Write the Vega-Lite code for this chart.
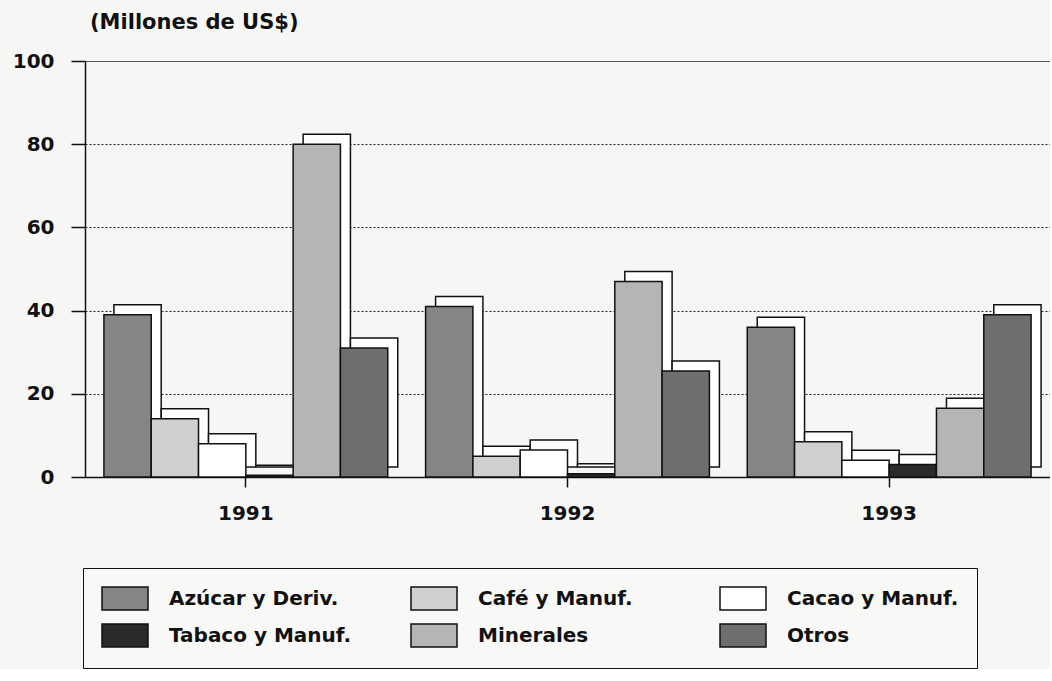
{
  "$schema": "https://vega.github.io/schema/vega-lite/v6.json",
  "width": 965,
  "height": 416,
  "padding": {"left": 12, "top": 12, "right": 0, "bottom": 0},
  "background": "#f6f6f4",
  "config": {"view": {"stroke": null}, "font": "DejaVu Sans"},
  "title": {"text": "(Millones de US$)", "anchor": "start", "frame": "group", "font": "DejaVu Sans", "fontSize": 21, "fontWeight": "bold", "color": "#111", "offset": 18, "dx": 5},
  "data": {"values": [
    {"year": "1991", "cat": "Azúcar y Deriv.", "value": 39},
    {"year": "1991", "cat": "Café y Manuf.", "value": 14},
    {"year": "1991", "cat": "Cacao y Manuf.", "value": 8},
    {"year": "1991", "cat": "Tabaco y Manuf.", "value": 0.4},
    {"year": "1991", "cat": "Minerales", "value": 80},
    {"year": "1991", "cat": "Otros", "value": 31},
    {"year": "1992", "cat": "Azúcar y Deriv.", "value": 41},
    {"year": "1992", "cat": "Café y Manuf.", "value": 5},
    {"year": "1992", "cat": "Cacao y Manuf.", "value": 6.5},
    {"year": "1992", "cat": "Tabaco y Manuf.", "value": 0.8},
    {"year": "1992", "cat": "Minerales", "value": 47},
    {"year": "1992", "cat": "Otros", "value": 25.5},
    {"year": "1993", "cat": "Azúcar y Deriv.", "value": 36},
    {"year": "1993", "cat": "Café y Manuf.", "value": 8.5},
    {"year": "1993", "cat": "Cacao y Manuf.", "value": 4},
    {"year": "1993", "cat": "Tabaco y Manuf.", "value": 3},
    {"year": "1993", "cat": "Minerales", "value": 16.5},
    {"year": "1993", "cat": "Otros", "value": 39}
  ]},
  "encoding": {
    "x": {"field": "year", "type": "nominal", "title": null,
      "scale": {"paddingInner": 0, "paddingOuter": 0},
      "axis": {"labelAngle": 0, "labelFont": "DejaVu Sans", "labelFontSize": 20, "labelFontWeight": "bold", "labelColor": "#111", "labelPadding": 16, "tickSize": 10, "tickColor": "#111", "tickWidth": 1.5, "domainColor": "#111", "domainWidth": 1.5}},
    "y": {"field": "value", "type": "quantitative", "title": null,
      "scale": {"domain": [0, 100], "nice": false},
      "axis": {"values": [0, 20, 40, 60, 80, 100], "labelFont": "DejaVu Sans", "labelFontSize": 20, "labelFontWeight": "bold", "labelColor": "#111", "labelPadding": 17, "tickSize": 14, "tickColor": "#111", "tickWidth": 1.5, "domainColor": "#111", "domainWidth": 1.5,
        "grid": true, "gridColor": "#222", "gridWidth": 1,
        "gridDash": {"condition": {"test": "datum.value >= 100", "value": [1, 0]}, "value": [2, 2]}}}
  },
  "layer": [
    {"mark": {"type": "bar", "fill": "white", "stroke": "#111", "strokeWidth": 1.5, "yOffset": -10, "y2Offset": -10},
     "encoding": {
       "xOffset": {"field": "cat", "type": "nominal", "sort": ["Azúcar y Deriv.", "Café y Manuf.", "Cacao y Manuf.", "Tabaco y Manuf.", "Minerales", "Otros"],
         "scale": {"paddingInner": 0, "paddingOuter": 0.4, "range": [10, 331.67]}}
     }},
    {"mark": {"type": "bar", "stroke": "#111", "strokeWidth": 1.5},
     "encoding": {
       "xOffset": {"field": "cat", "type": "nominal", "sort": ["Azúcar y Deriv.", "Café y Manuf.", "Cacao y Manuf.", "Tabaco y Manuf.", "Minerales", "Otros"],
         "scale": {"paddingInner": 0, "paddingOuter": 0.4}},
       "color": {"field": "cat", "type": "nominal",
         "scale": {"domain": ["Azúcar y Deriv.", "Café y Manuf.", "Cacao y Manuf.", "Tabaco y Manuf.", "Minerales", "Otros"],
                   "range": ["#858585", "#cfcfcf", "#ffffff", "#2a2a2a", "#b5b5b5", "#6e6e6e"]},
         "legend": {"title": null, "orient": "none", "direction": "horizontal", "legendX": -2, "legendY": 507, "columns": 3, "gridAlign": "all", "columnPadding": 56, "rowPadding": 8,
           "symbolType": "M-1,-1H3V1H-1Z", "symbolSize": 529, "symbolStrokeColor": "#111", "symbolStrokeWidth": 1.5, "symbolOpacity": 1,
           "labelFont": "DejaVu Sans", "labelFontSize": 20, "labelFontWeight": "bold", "labelColor": "#111", "labelOffset": 43, "labelLimit": 400,
           "padding": 18, "strokeColor": "#111", "fillColor": "#f8f8f6"}}
     }}
  ],
  "resolve": {"scale": {"xOffset": "independent"}}
}
